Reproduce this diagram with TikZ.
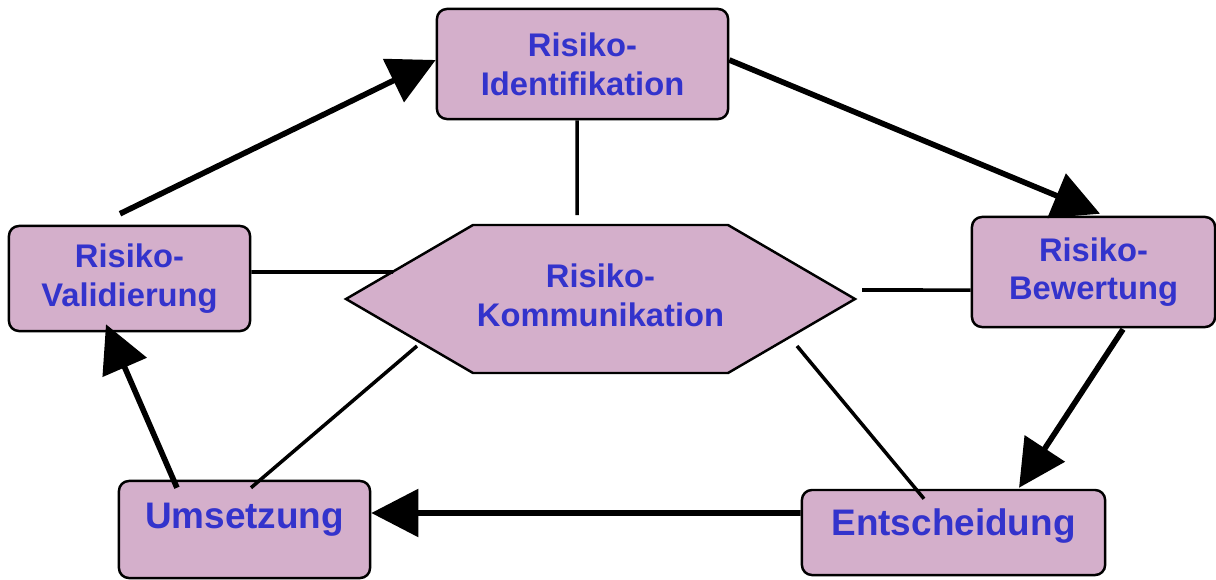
\documentclass[tikz,border=0pt]{standalone}
\usepackage{fontspec}
\setmainfont{Liberation Sans}
\usetikzlibrary{arrows.meta}
\definecolor{riskblue}{RGB}{51,51,204}
\definecolor{risklilac}{RGB}{212,175,203}

\begin{document}
\begin{tikzpicture}[x=0.01cm,y=-0.01cm,
    every node/.style={font=\bfseries\fontsize{9.3}{11}\selectfont,text=riskblue,align=center},
    box/.style={draw,line width=0.7pt,fill=risklilac,rounded corners=0.1cm,inner sep=0pt},
    bigtext/.style={font=\bfseries\fontsize{10.5}{12.5}\selectfont},
    flow/.style={line width=1.6pt,-{Triangle[length=0.47cm,width=0.47cm]}},
    link/.style={line width=1pt}]
  \useasboundingbox (0,0) rectangle (1216,579);
  % process steps
  \node[box,minimum width=2.91cm,minimum height=1.1cm]  (ident)  at (582.5,64)    {Risiko-\\Identifikation};
  \node[box,minimum width=2.43cm,minimum height=1.1cm]  (bewert) at (1093.5,272)  {Risiko-\\Bewertung};
  \node[box,bigtext,minimum width=3.03cm,minimum height=0.85cm,text height=0.35cm,text depth=0.3cm]
        (entsch) at (953.5,532.5) {Entscheidung};
  \node[box,bigtext,minimum width=2.51cm,minimum height=0.97cm,text height=0.3cm,text depth=0.33cm]
        (umsetz) at (244.5,529.5) {Umsetzung};
  \node[box,minimum width=2.41cm,minimum height=1.05cm] (valid)  at (129.5,278.5) {Risiko-\\Validierung};
  % communication hexagon
  \draw[fill=risklilac,line width=0.7pt] (346,299) -- (473,225) -- (728,225) -- (855,299)
        -- (728,373) -- (473,373) -- cycle;
  \node (komm) at (600.5,295) {Risiko-\\Kommunikation};
  \coordinate (kt)  at (577,215);
  \coordinate (kl)  at (393,272);
  \coordinate (kr)  at (862,290);
  \coordinate (kbl) at (417,346);
  \coordinate (kbr) at (797,346);
  % links to the hexagon
  \draw[link] ([xshift=-0.055cm]ident.south) -- (kt);
  \draw[link] ([yshift=0.065cm]valid.east) -- (kl);
  \draw[link] (kr) -- ([yshift=-0.18cm]bewert.west);
  \draw[link] ([xshift=0.065cm,yshift=-0.08cm]umsetz.north) -- (kbl);
  \draw[link] ([xshift=-0.295cm,yshift=-0.1cm]entsch.north) -- (kbr);
  % cycle
  \draw[flow] ([xshift=-0.095cm,yshift=0.11cm]valid.north) -- ([yshift=0.04cm]ident.west);
  \draw[flow] ([yshift=0.04cm]ident.east) -- ([xshift=0.065cm,yshift=0.02cm]bewert.north);
  \draw[flow] ([xshift=0.295cm,yshift=-0.01cm]bewert.south) -- ([xshift=0.655cm,yshift=0.01cm]entsch.north);
  \draw[flow] ([yshift=0.195cm]entsch.west) -- ([yshift=0.165cm]umsetz.east);
  \draw[flow] ([xshift=-0.675cm,yshift=-0.08cm]umsetz.north) -- ([xshift=-0.235cm,yshift=0.08cm]valid.south);
\end{tikzpicture}
\end{document}
